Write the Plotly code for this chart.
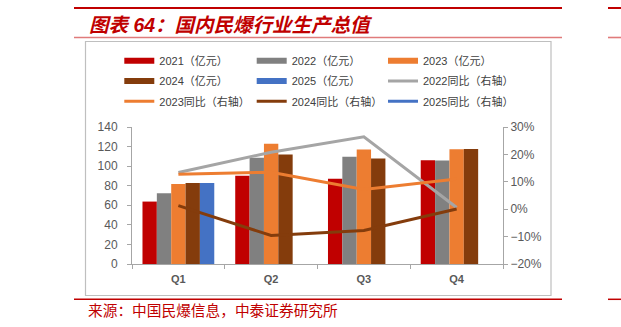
import plotly.graph_objects as go

quarters = ["Q1", "Q2", "Q3", "Q4"]
v2021 = [63.8, 90.2, 87.1, 106.1]
v2022 = [72.2, 108.5, 109.5, 105.8]
v2023 = [81.7, 123.0, 117.0, 117.3]
v2024 = [82.7, 111.9, 107.8, 117.6]
v2025 = [82.7, None, None, None]
yoy2022 = [13.4, 20.8, 26.4, 0.6]
yoy2023 = [12.8, 13.5, 7.2, 11.0]
yoy2024 = [1.3, -9.6, -7.8, 0.1]
yoy2025 = [0.0, None, None, None]

bar_names = ["2021（亿元）", "2022（亿元）", "2023（亿元）", "2024（亿元）", "2025（亿元）"]
bar_vals = [v2021, v2022, v2023, v2024, v2025]
bar_cols = ["#C00000", "#808080", "#ED7D31", "#843C0C", "#4472C4"]
line_names = ["2022同比（右轴）", "2023同比（右轴）", "2024同比（右轴）", "2025同比（右轴）"]
line_vals = [yoy2022, yoy2023, yoy2024, yoy2025]
line_cols = ["#A5A5A5", "#ED7D31", "#843C0C", "#4472C4"]

W, H = 621, 327
L, R, T, B = 132, 503, 127, 264
FONT = "Liberation Sans, Arial, Noto Sans CJK SC, sans-serif"

fig = go.Figure()
for n, v, c in zip(bar_names, bar_vals, bar_cols):
    fig.add_trace(go.Bar(x=quarters, y=v, name=n, marker=dict(color=c, line=dict(width=0)),
                         showlegend=False))

# legend assignment (3 columns, row-major order as in reference)
bar_legend = ["legend", "legend2", "legend3", "legend", "legend2"]
for i, (n, c) in enumerate(zip(bar_names, bar_cols)):
    fig.add_trace(go.Scatter(x=quarters, y=[None] * 4, mode="lines", name=n,
                             line=dict(color=c, width=6), legend=bar_legend[i],
                             legendgroup="b%d" % i, hoverinfo="skip"))
line_legend = ["legend3", "legend", "legend2", "legend3"]
for i, (n, v, c) in enumerate(zip(line_names, line_vals, line_cols)):
    fig.add_trace(go.Scatter(x=quarters, y=v, name=n, mode="lines", yaxis="y2",
                             line=dict(color=c, width=3), legend=line_legend[i],
                             legendgroup="l%d" % i))

def px(xp):
    return (xp - L) / (R - L)

def py(yp):
    return (B - yp) / (B - T)

shapes = [
    dict(type="line", xref="paper", yref="paper", x0=px(74), x1=px(562), y0=py(8), y1=py(8),
         line=dict(color="#C00000", width=2)),
    dict(type="line", xref="paper", yref="paper", x0=px(608), x1=px(621), y0=py(8), y1=py(8),
         line=dict(color="#C00000", width=2)),
    dict(type="line", xref="paper", yref="paper", x0=px(74), x1=px(562), y0=py(37.5), y1=py(37.5),
         line=dict(color="#E07B7B", width=1.6)),
    dict(type="line", xref="paper", yref="paper", x0=px(608), x1=px(621), y0=py(37.5), y1=py(37.5),
         line=dict(color="#E07B7B", width=1.6)),
    dict(type="rect", xref="paper", yref="paper", x0=px(85.5), x1=px(551), y0=py(41.5), y1=py(295.5),
         line=dict(color="#BFBFBF", width=1.2), layer="below"),
    dict(type="line", xref="paper", yref="paper", x0=px(74), x1=px(562), y0=py(299.3), y1=py(299.3),
         line=dict(color="#C00000", width=1.5)),
    dict(type="line", xref="paper", yref="paper", x0=px(608), x1=px(621), y0=py(299.3), y1=py(299.3),
         line=dict(color="#C00000", width=1.5)),
]

annotations = [
    dict(text="图表 64：国内民爆行业生产总值", xref="paper", yref="paper", x=px(87), y=py(24.5),
         xanchor="left", yanchor="middle", showarrow=False,
         font=dict(family="Liberation Sans, Noto Sans CJK SC", size=19.5, color="#C00000",
                   weight="bold", style="italic")),
    dict(text="来源：中国民爆信息，中泰证券研究所", xref="paper", yref="paper", x=px(86), y=py(309.5),
         xanchor="left", yanchor="middle", showarrow=False,
         font=dict(family="Noto Sans CJK SC", size=14.7, color="#C00000")),
]

def leg(xpix):
    return dict(xref="paper", yref="paper", x=px(xpix), y=py(46.2),
                xanchor="left", yanchor="top", orientation="v", bgcolor="rgba(0,0,0,0)",
                borderwidth=0, tracegroupgap=1.3, traceorder="grouped",
                font=dict(family=FONT, size=11, color="#404040"))

fig.update_layout(
    width=W, height=H,
    margin=dict(l=L, r=W - R, t=T, b=H - B, pad=0, autoexpand=False),
    paper_bgcolor="white", plot_bgcolor="white",
    barmode="group", bargap=0.226, bargroupgap=0,
    showlegend=True,
    legend=leg(119.3), legend2=leg(251.7), legend3=leg(383),
    xaxis=dict(type="category", range=[-0.5, 3.5], showline=True, linecolor="#A6A6A6", linewidth=1,
               ticks="outside", tickson="boundaries", ticklen=4, tickcolor="#A6A6A6",
               showgrid=False, zeroline=False, ticklabelstandoff=5,
               tickfont=dict(family=FONT, size=11, color="#595959", weight="bold")),
    yaxis=dict(range=[0, 140], dtick=20, showline=True, linecolor="#A6A6A6", linewidth=1,
               ticks="outside", ticklen=4, tickcolor="#A6A6A6", showgrid=False, zeroline=False,
               ticklabelstandoff=7,
               tickfont=dict(family=FONT, size=12, color="#595959")),
    yaxis2=dict(range=[-20, 30], dtick=10, overlaying="y", side="right", ticksuffix="%",
                showline=True, linecolor="#A6A6A6", linewidth=1, ticks="outside", ticklen=4,
                tickcolor="#A6A6A6", showgrid=False, zeroline=False,
                tickfont=dict(family=FONT, size=12, color="#595959")),
    shapes=shapes, annotations=annotations,
)

fig.write_html("out.html")
